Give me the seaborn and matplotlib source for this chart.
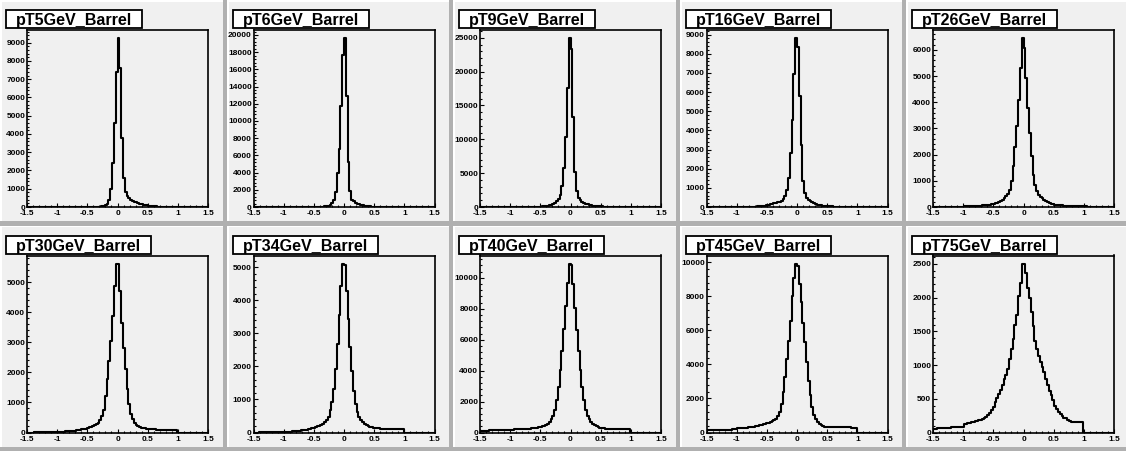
import numpy as np
import pandas as pd
import matplotlib
matplotlib.use("Agg")
import matplotlib.pyplot as plt
import seaborn as sns
from matplotlib.patches import Rectangle
from matplotlib.ticker import MultipleLocator, FuncFormatter
from matplotlib.transforms import Bbox, TransformedBbox

# ---- histogram contents: 100 bins from -1.5 to 1.5 ----
titles = ["pT5GeV_Barrel", "pT6GeV_Barrel", "pT9GeV_Barrel", "pT16GeV_Barrel",
          "pT26GeV_Barrel", "pT30GeV_Barrel", "pT34GeV_Barrel", "pT40GeV_Barrel",
          "pT45GeV_Barrel", "pT75GeV_Barrel"]

pt5_counts = [
    0, 0, 0, 0, 0, 0, 0, 0, 0, 0,
    0, 0, 0, 0, 0, 0, 0, 0, 0, 0,
    0, 0, 0, 0, 0, 0, 0, 0, 0, 0,
    0, 1, 2, 3, 4, 6, 8, 11, 15, 20,
    25, 40, 60, 100, 180, 400, 980, 2400, 4590, 7380,
    9235, 7630, 3770, 1585, 800, 600, 480, 400, 340, 290,
    250, 210, 180, 150, 125, 105, 90, 75, 60, 50,
    40, 32, 25, 20, 15, 12, 9, 7, 5, 4,
    3, 2, 2, 1, 0, 0, 0, 0, 0, 0,
    0, 0, 0, 0, 0, 0, 0, 0, 0, 0]

pt6_counts = [
    0, 0, 0, 0, 0, 0, 0, 0, 0, 0,
    0, 0, 0, 0, 0, 0, 0, 0, 0, 0,
    0, 0, 1, 1, 2, 2, 3, 3, 4, 4,
    5, 7, 10, 14, 18, 25, 35, 45, 55, 70,
    100, 150, 260, 460, 850, 1800, 4000, 6700, 11790, 17730,
    19600, 12900, 5280, 1810, 850, 650, 500, 390, 300, 230,
    180, 140, 110, 90, 70, 55, 45, 36, 28, 22,
    17, 13, 10, 8, 6, 5, 4, 3, 2, 2,
    1, 1, 1, 0, 0, 0, 0, 0, 0, 0,
    0, 0, 0, 0, 0, 0, 0, 0, 0, 0]

pt9_counts = [
    0, 0, 0, 0, 0, 0, 0, 0, 0, 0,
    0, 0, 1, 1, 1, 2, 2, 3, 3, 4,
    5, 6, 8, 10, 12, 14, 16, 19, 22, 26,
    30, 40, 50, 60, 75, 100, 140, 180, 240, 320,
    430, 590, 830, 1180, 1820, 3050, 5750, 10410, 17540, 24900,
    23280, 13260, 5110, 2310, 1330, 1000, 800, 640, 500, 400,
    320, 260, 210, 170, 140, 110, 90, 75, 60, 50,
    40, 32, 26, 20, 16, 13, 10, 8, 6, 5,
    4, 3, 2, 2, 1, 1, 0, 0, 0, 0,
    0, 0, 0, 0, 0, 0, 0, 0, 0, 0]

pt16_counts = [
    0, 0, 0, 0, 0, 0, 0, 0, 0, 0,
    1, 2, 2, 3, 4, 5, 6, 7, 8, 9,
    8, 9, 10, 12, 14, 17, 20, 24, 28, 34,
    40, 55, 75, 100, 130, 160, 180, 200, 220, 240,
    270, 320, 400, 560, 900, 1520, 2820, 4560, 6920, 8800,
    8340, 5780, 3260, 1340, 730, 470, 380, 300, 240, 190,
    150, 120, 100, 80, 65, 55, 45, 38, 32, 27,
    22, 18, 15, 12, 10, 8, 6, 5, 4, 3,
    2, 2, 1, 1, 0, 0, 0, 0, 0, 0,
    0, 0, 0, 0, 0, 0, 0, 0, 0, 0]

pt26_counts = [
    0, 0, 0, 0, 0, 1, 1, 2, 3, 4,
    5, 6, 8, 10, 12, 15, 18, 22, 26, 28,
    30, 34, 38, 42, 46, 50, 54, 58, 62, 66,
    70, 85, 100, 120, 140, 170, 200, 240, 280, 340,
    410, 500, 660, 980, 1550, 2310, 3100, 4090, 5300, 6440,
    6090, 4920, 3770, 2820, 1930, 1230, 850, 600, 470, 400,
    340, 280, 220, 180, 150, 120, 100, 90, 80, 72,
    65, 60, 55, 50, 46, 42, 40, 38, 36, 34,
    32, 30, 28, 26, 20, 15, 10, 6, 3, 0,
    0, 0, 0, 0, 0, 0, 0, 0, 0, 0]

pt30_counts = [
    0, 0, 0, 0, 1, 1, 2, 2, 3, 3,
    4, 5, 6, 7, 8, 10, 12, 22, 25, 28,
    32, 36, 40, 46, 52, 58, 65, 72, 80, 90,
    100, 115, 130, 150, 170, 190, 215, 245, 280, 330,
    420, 560, 760, 1200, 1770, 2380, 3040, 3890, 4890, 5610,
    5600, 4700, 3650, 2820, 2100, 1440, 940, 610, 440, 330,
    260, 220, 190, 165, 150, 135, 125, 118, 112, 106,
    100, 98, 96, 94, 92, 90, 88, 86, 85, 84,
    83, 82, 81, 0, 0, 0, 0, 0, 0, 0,
    0, 0, 0, 0, 0, 0, 0, 0, 0, 0]

pt34_counts = [
    0, 0, 0, 1, 1, 1, 2, 2, 2, 3,
    3, 4, 4, 5, 6, 7, 8, 18, 22, 26,
    30, 35, 40, 46, 52, 58, 65, 72, 80, 90,
    100, 110, 125, 145, 165, 185, 210, 240, 270, 310,
    370, 470, 670, 920, 1320, 1920, 2670, 3570, 4420, 5100,
    5080, 4270, 3440, 2600, 1870, 1270, 870, 620, 470, 370,
    320, 270, 230, 200, 180, 165, 150, 140, 130, 125,
    120, 118, 116, 114, 112, 110, 108, 106, 104, 102,
    100, 98, 96, 0, 0, 0, 0, 0, 0, 0,
    0, 0, 0, 0, 0, 0, 0, 0, 0, 0]

pt40_counts = [
    120, 122, 124, 126, 128, 131, 134, 137, 141, 145,
    150, 153, 156, 160, 164, 168, 172, 180, 188, 195,
    200, 205, 210, 218, 226, 235, 245, 257, 270, 285,
    300, 320, 345, 375, 410, 450, 500, 570, 690, 860,
    1070, 1430, 2080, 2930, 4070, 5290, 6680, 8180, 9640, 10900,
    10800, 9570, 8070, 6640, 5290, 4070, 2930, 2080, 1430, 1070,
    860, 690, 560, 470, 400, 350, 315, 290, 270, 255,
    245, 238, 232, 226, 222, 218, 215, 212, 210, 208,
    206, 204, 202, 0, 0, 0, 0, 0, 0, 0,
    0, 0, 0, 0, 0, 0, 0, 0, 0, 0]

pt45_counts = [
    130, 133, 136, 139, 142, 145, 148, 152, 156, 160,
    164, 168, 172, 176, 180, 185, 210, 250, 255, 262,
    270, 280, 290, 300, 315, 330, 350, 370, 395, 420,
    450, 480, 510, 545, 580, 620, 670, 730, 820, 950,
    1210, 1690, 2370, 3250, 4320, 5390, 6560, 8020, 9090, 9900,
    9770, 8700, 7660, 6460, 5290, 4120, 3050, 2180, 1500, 1050,
    780, 620, 510, 430, 380, 350, 330, 322, 318, 315,
    312, 310, 308, 306, 304, 302, 300, 298, 296, 294,
    292, 290, 288, 0, 0, 0, 0, 0, 0, 0,
    0, 0, 0, 0, 0, 0, 0, 0, 0, 0]

pt75_counts = [
    55, 58, 60, 62, 64, 66, 68, 70, 72, 74,
    76, 78, 80, 82, 84, 86, 88, 125, 130, 135,
    140, 150, 160, 165, 170, 180, 190, 200, 215, 230,
    260, 290, 340, 380, 450, 510, 570, 630, 700, 790,
    850, 940, 1090, 1240, 1380, 1600, 1750, 2020, 2220, 2500,
    2500, 2370, 2150, 2000, 1780, 1580, 1360, 1240, 1130, 1050,
    970, 890, 790, 700, 610, 550, 480, 400, 350, 300,
    270, 250, 220, 210, 180, 170, 160, 160, 155, 150,
    150, 150, 150, 0, 0, 0, 0, 0, 0, 0,
    0, 0, 0, 0, 0, 0, 0, 0, 0, 0]

# labelled y-axis step for each panel
y_steps = [1000, 2000, 5000, 1000, 1000, 1000, 1000, 2000, 2000, 500]

all_counts = [pt5_counts, pt6_counts, pt9_counts, pt16_counts, pt26_counts,
              pt30_counts, pt34_counts, pt40_counts, pt45_counts, pt75_counts]

N_BINS, X_LO, X_HI = 100, -1.5, 1.5
edges = np.linspace(X_LO, X_HI, N_BINS + 1)
centers = 0.5 * (edges[:-1] + edges[1:])

# ---- canvas ----
sns.set_style("ticks")
plt.rcParams["font.family"] = ["Liberation Sans", "DejaVu Sans"]
plt.rcParams["font.weight"] = "bold"
for key in ("text.color", "axes.labelcolor", "xtick.color", "ytick.color",
            "xtick.labelcolor", "ytick.labelcolor"):
    plt.rcParams[key] = "black"

W, H = 1126, 451
PAD_BG = "#f0f0f0"
BEVEL_DARK = "#b0b0b0"
BEVEL_LIGHT = "#ffffff"

fig = plt.figure(figsize=(W / 100, H / 100), dpi=100)
fig.patch.set_facecolor(PAD_BG)


def px_rect(x, y, w, h, **kw):
    """Rectangle in pixel units measured from the top-left corner."""
    r = Rectangle((x / W, 1 - (y + h) / H), w / W, h / H,
                  transform=fig.transFigure, **kw)
    fig.patches.append(r)
    return r


pad_w, pad_h = 226.5, 225.5
int_fmt = FuncFormatter(lambda v, p: f"{int(round(v))}")
renderer = fig.canvas.get_renderer()

axes_info = []
for i, (title, counts, ystep) in enumerate(zip(titles, all_counts, y_steps)):
    r, c = divmod(i, 5)
    x0, y0 = c * pad_w, r * pad_h

    # pad with raised bevel
    px_rect(x0, y0, pad_w, pad_h, facecolor=PAD_BG, edgecolor="none", zorder=-3)
    px_rect(x0, y0, pad_w, 2, facecolor=BEVEL_LIGHT, edgecolor="none", zorder=-2)
    px_rect(x0, y0, 2, pad_h, facecolor=BEVEL_LIGHT, edgecolor="none", zorder=-2)
    px_rect(x0, y0 + pad_h - 4, pad_w, 4, facecolor=BEVEL_DARK, edgecolor="none", zorder=-1)
    px_rect(x0 + pad_w - 4, y0, 4, pad_h, facecolor=BEVEL_DARK, edgecolor="none", zorder=-1)

    # frame
    fl, fr, ft, fb = x0 + 27, x0 + 208, y0 + 30, y0 + 207
    ax = fig.add_axes([fl / W, 1 - fb / H, (fr - fl) / W, (fb - ft) / H])
    ax.set_facecolor(PAD_BG)

    df = pd.DataFrame({"x": centers, "n": counts})
    sns.histplot(data=df, x="x", weights="n", bins=N_BINS, binrange=(X_LO, X_HI),
                 element="step", fill=False, color="black", linewidth=1.5, ax=ax)

    ax.set_xlim(X_LO, X_HI)
    ax.set_ylim(0, 1.05 * max(counts))
    ax.set_xlabel("")
    ax.set_ylabel("")

    ax.xaxis.set_major_locator(MultipleLocator(0.5))
    ax.xaxis.set_minor_locator(MultipleLocator(0.1))
    ax.yaxis.set_major_locator(MultipleLocator(ystep))
    ax.yaxis.set_minor_locator(MultipleLocator(ystep / 5))
    ax.yaxis.set_major_formatter(int_fmt)
    ax.xaxis.set_major_formatter(FuncFormatter(lambda v, p: f"{v:g}"))

    ax.tick_params(which="both", direction="in", top=False, right=False,
                   width=0.8, color="black", labelcolor="black")
    ax.tick_params(which="major", length=3.2, labelsize=6)
    ax.tick_params(axis="x", which="major", pad=2.4)
    ax.tick_params(axis="y", which="major", pad=1.2)
    ax.tick_params(which="minor", length=1.6)
    for lab in ax.get_xticklabels() + ax.get_yticklabels():
        lab.set_fontweight("bold")
    for sp in ax.spines.values():
        sp.set_visible(True)
        sp.set_color("black")
        sp.set_linewidth(1.2)

    # title box
    t = fig.text((x0 + 16) / W, 1 - (y0 + 25.5) / H, title, fontsize=11.6,
                 fontweight="bold", color="black", ha="left", va="baseline",
                 zorder=5)
    tb = t.get_window_extent(renderer)
    box_r = tb.x1 + 10
    px_rect(x0 + 6, y0 + 10, box_r - (x0 + 6), 18, facecolor="white",
            edgecolor="black", linewidth=1.3, zorder=4)

    axes_info.append((ax, x0, y0))

# keep tick labels inside their own pad
fig.canvas.draw()
for ax, x0, y0 in axes_info:
    clip = TransformedBbox(
        Bbox.from_extents(x0 / W, 1 - (y0 + pad_h) / H, (x0 + pad_w) / W, 1 - y0 / H),
        fig.transFigure)
    for lab in ax.get_yticklabels() + ax.get_xticklabels():
        lab.set_clip_box(clip)
        lab.set_clip_on(True)

fig.savefig("out.png", dpi=100, facecolor=fig.get_facecolor())
